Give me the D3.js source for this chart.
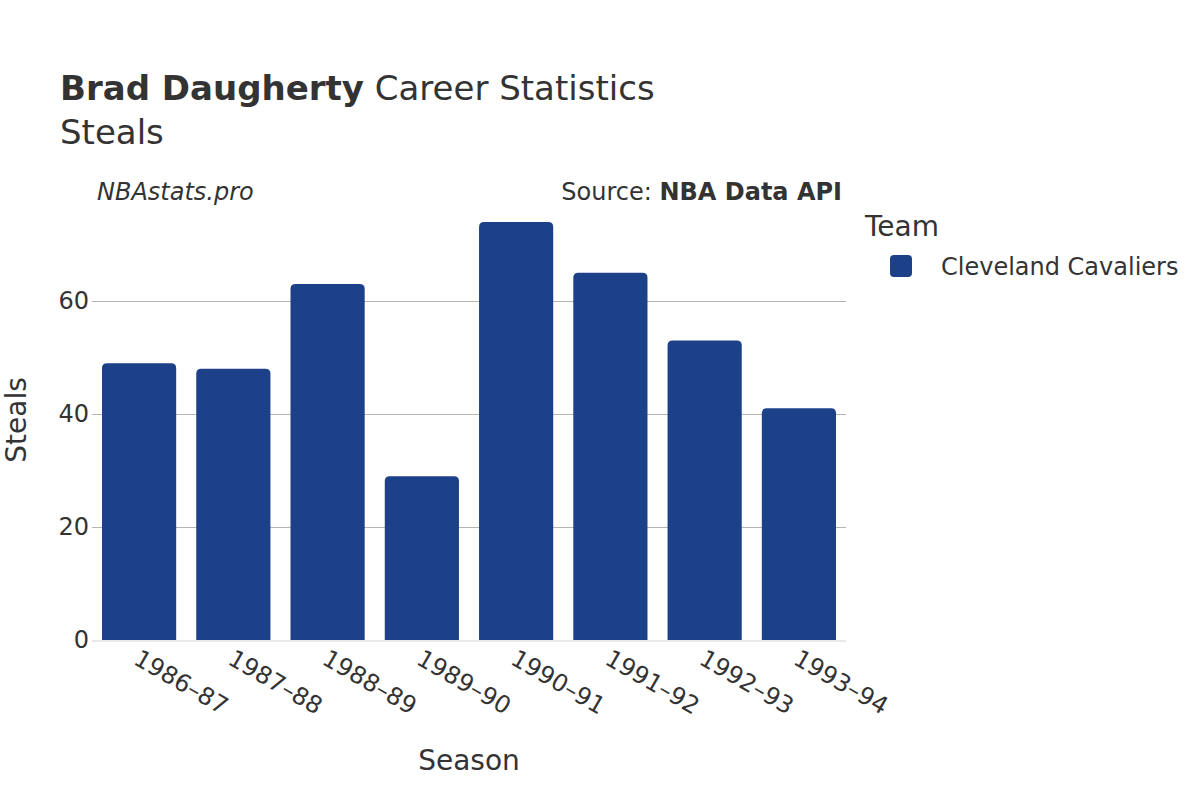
<!DOCTYPE html>
<html><head><meta charset="utf-8">
<script src="https://cdn.jsdelivr.net/npm/d3@7/dist/d3.min.js"></script>
<style>body{margin:0;background:#fff}svg{display:block;font-family:"DejaVu Sans",sans-serif}</style>
</head><body><svg id="c" width="1200" height="800"></svg>
<script>
const seasons = ["1986-87","1987-88","1988-89","1989-90","1990-91","1991-92","1992-93","1993-94"];
const steals = [49,48,63,29,74,65,53,41];
const yTicks = [0,20,40,60];
const team = "Cleveland Cavaliers";
const barColor = "#1d4189";

(function(){
const svg = d3.select("#c");
const W = 1200, H = 800;
svg.append("rect").attr("width",W).attr("height",H).attr("fill","#fff");
const pL = 92, pR = 846, pT = 188, pB = 640;
const x = d3.scaleBand().domain(seasons).range([pL,pR]).paddingInner(0.213).paddingOuter(0.106);
const y = d3.scaleLinear().domain([0,80]).range([pB, pT]);

// grid
svg.append("g").selectAll("line").data(yTicks.filter(d=>d>0)).join("line")
  .attr("x1",pL).attr("x2",pR).attr("y1",d=>Math.round(y(d))+0.5).attr("y2",d=>Math.round(y(d))+0.5)
  .attr("stroke","#b4b4b4").attr("stroke-width",1);
// y axis labels
const yAxis = d3.axisLeft(y).tickValues(yTicks).tickSize(0).tickPadding(0).tickFormat(d3.format("d"));
const gy = svg.append("g").attr("transform",`translate(${pL-3},0)`).call(yAxis);
gy.select(".domain").remove();
gy.selectAll("text").attr("font-size",24).attr("fill","#333").attr("font-family","DejaVu Sans");

// bars with rounded tops
const r = 5;
svg.append("g").selectAll("path").data(seasons).join("path")
  .attr("fill",barColor)
  .attr("d",(d,i)=>{
    const x0 = x(d), w = x.bandwidth(), y0 = y(steals[i]), yb = y(0);
    return `M${x0},${yb}V${y0+r}Q${x0},${y0} ${x0+r},${y0}H${x0+w-r}Q${x0+w},${y0} ${x0+w},${y0+r}V${yb}Z`;
  });
// baseline
svg.append("line").attr("x1",pL).attr("x2",pR).attr("y1",pB+1).attr("y2",pB+1)
  .attr("stroke","#e8e8e8").attr("stroke-width",2);

// x axis labels
const xAxis = d3.axisBottom(x).tickSize(0).tickPadding(0);
const gx = svg.append("g").attr("transform",`translate(0,${pB})`).call(xAxis);
gx.select(".domain").remove();
gx.selectAll("text").attr("font-size",24).attr("fill","#333").attr("font-family","DejaVu Sans")
  .attr("text-anchor","start").attr("dy",null).attr("y",0)
  .attr("transform","translate(2,8) rotate(30)").attr("dominant-baseline","hanging");
gx.selectAll("text").text(d=>d.replace("-","–"));

// titles
const t = svg.append("text").attr("x",60).attr("y",100).attr("font-size",34).attr("fill","#333");
t.append("tspan").attr("font-weight","bold").text("Brad Daugherty");
t.append("tspan").text(" Career Statistics");
svg.append("text").attr("x",60).attr("y",144).attr("font-size",34).attr("fill","#333").text("Steals");
svg.append("text").attr("x",97).attr("y",200).attr("font-size",24).attr("font-style","italic").attr("fill","#333").text("NBAstats.pro");
const s = svg.append("text").attr("x",842).attr("y",200).attr("font-size",24).attr("fill","#333").attr("text-anchor","end");
s.append("tspan").text("Source: ");
s.append("tspan").attr("font-weight","bold").text("NBA Data API");

// axis titles
svg.append("text").attr("transform","translate(26,420) rotate(-90)").attr("text-anchor","middle")
  .attr("font-size",28).attr("fill","#333").text("Steals");
svg.append("text").attr("x",469).attr("y",770).attr("text-anchor","middle")
  .attr("font-size",28).attr("fill","#333").text("Season");

// legend
svg.append("text").attr("x",865).attr("y",236).attr("font-size",28).attr("fill","#333").text("Team");
svg.append("rect").attr("x",890).attr("y",255).attr("width",22).attr("height",22).attr("rx",4).attr("fill",barColor);
svg.append("text").attr("x",941).attr("y",275).attr("font-size",24).attr("fill","#333").text(team);
})();
</script></body></html>
